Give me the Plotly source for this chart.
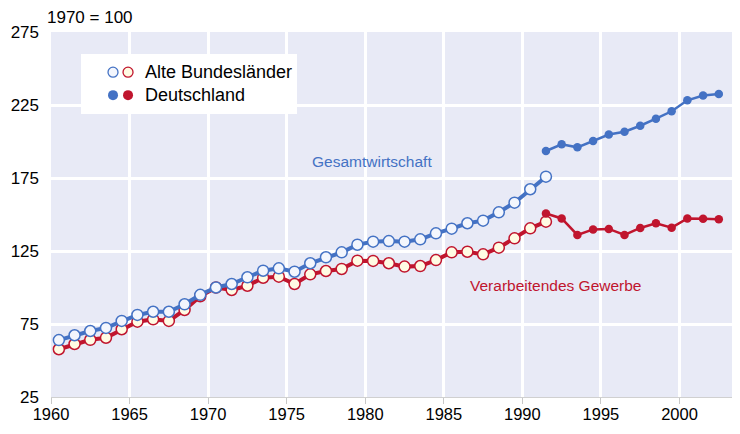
import plotly.graph_objects as go

# ---- data (index, 1970 = 100) ----
years_old = list(range(1960, 1992))
gesamt_old = [64.0, 67.3, 70.2, 72.3, 77.1, 81.2, 83.4, 83.4, 88.5, 95.0,
              100.0, 102.4, 107.0, 111.5, 113.1, 110.8, 116.6, 120.7, 124.1, 129.3,
              131.4, 131.8, 131.4, 133.0, 137.1, 140.3, 144.0, 145.8, 151.5, 158.1,
              167.3, 175.9]
verarb_old = [57.7, 61.3, 64.2, 65.6, 71.4, 76.6, 78.2, 77.1, 84.6, 94.0,
              100.0, 98.3, 101.2, 106.7, 107.4, 102.4, 109.0, 111.3, 112.7, 118.4,
              118.2, 116.6, 114.3, 114.7, 118.8, 124.1, 124.5, 122.7, 127.3, 133.7,
              140.5, 145.1]
years_de = list(range(1991, 2003))
gesamt_de = [193.5, 198.1, 196.0, 200.3, 204.8, 206.7, 210.8, 215.6, 220.7, 228.2, 231.5, 232.5]
verarb_de = [150.7, 147.3, 136.0, 139.8, 140.1, 136.0, 140.8, 144.0, 141.0, 147.3, 147.1, 146.7]

x_ticks = list(range(1960, 2001, 5))
y_ticks = [25, 75, 125, 175, 225, 275]

BLUE = "#4472C4"
RED = "#C0152E"
FONT = "Liberation Sans, Arial, sans-serif"

def mid(years):
    return [y + 0.5 for y in years]

fig = go.Figure()

fig.add_trace(go.Scatter(
    x=mid(years_old), y=verarb_old, mode="lines+markers",
    line=dict(color=RED, width=4),
    marker=dict(size=11, color="#FFFBE3", line=dict(color=RED, width=1.5)),
    showlegend=False, hoverinfo="skip"))
fig.add_trace(go.Scatter(
    x=mid(years_old), y=gesamt_old, mode="lines+markers",
    line=dict(color=BLUE, width=4),
    marker=dict(size=11, color="#F3F6FD", line=dict(color=BLUE, width=1.5)),
    showlegend=False, hoverinfo="skip"))
fig.add_trace(go.Scatter(
    x=mid(years_de), y=verarb_de, mode="lines+markers",
    line=dict(color=RED, width=2.5),
    marker=dict(size=8.5, color=RED),
    showlegend=False, hoverinfo="skip"))
fig.add_trace(go.Scatter(
    x=mid(years_de), y=gesamt_de, mode="lines+markers",
    line=dict(color=BLUE, width=2.5),
    marker=dict(size=8.5, color=BLUE),
    showlegend=False, hoverinfo="skip"))

# ---- custom legend (two markers per row) on an overlay axis in [0,1] ----
leg_rows = [0.890, 0.827]
leg_cols = [0.090, 0.1118]
fig.add_trace(go.Scatter(
    x=[leg_cols[0], leg_cols[1]], y=[leg_rows[0], leg_rows[0]], mode="markers",
    marker=dict(size=10, color=["#F3F6FD", "#FFFBE3"], line=dict(color=[BLUE, RED], width=1.3)),
    xaxis="x2", yaxis="y2", showlegend=False, hoverinfo="skip"))
fig.add_trace(go.Scatter(
    x=[leg_cols[0], leg_cols[1]], y=[leg_rows[1], leg_rows[1]], mode="markers",
    marker=dict(size=10, color=[BLUE, RED]),
    xaxis="x2", yaxis="y2", showlegend=False, hoverinfo="skip"))

fig.add_shape(type="rect", xref="paper", yref="paper",
              x0=0.0435, x1=0.357, y0=0.7753, y1=0.9397,
              fillcolor="white", line=dict(width=0), layer="between")

annots = [
    dict(text="Alte Bundesländer", x=0.1335, y=leg_rows[0], xanchor="left",
         font=dict(size=18, color="black", family=FONT)),
    dict(text="Deutschland", x=0.1335, y=leg_rows[1], xanchor="left",
         font=dict(size=18, color="black", family=FONT)),
    dict(text="1970 = 100", x=-0.009, y=1.039, xanchor="left",
         font=dict(size=17, color="black", family=FONT)),
]
for a in annots:
    fig.add_annotation(xref="paper", yref="paper", yanchor="middle",
                       showarrow=False, **a)

fig.add_annotation(text="Gesamtwirtschaft", x=1980.4, y=186, xref="x", yref="y",
                   showarrow=False, font=dict(size=15.5, color=BLUE, family=FONT))
fig.add_annotation(text="Verarbeitendes Gewerbe", x=1992.1, y=101.7, xref="x", yref="y",
                   showarrow=False, font=dict(size=15.5, color=RED, family=FONT))

# page body adds an 8px offset, so the figure is 8px smaller and margins shifted
fig.update_layout(
    width=732, height=426,
    margin=dict(l=43, r=0, t=24, b=37, autoexpand=False),
    paper_bgcolor="white",
    plot_bgcolor="#E8EAF6",
    font=dict(family=FONT, size=17, color="black"),
    showlegend=False,
    xaxis=dict(range=[1960, 2003.85], tickvals=x_ticks, ticks="outside", ticklen=6,
               tickcolor="#C8C8C8", showline=True, linecolor="#D0D0D0", linewidth=1,
               showgrid=True, gridcolor="white", gridwidth=3, zeroline=False,
               ticklabelstandoff=-4, tickfont=dict(size=16.5), automargin=False),
    yaxis=dict(range=[25, 275], tickvals=y_ticks, showgrid=True, gridcolor="white",
               gridwidth=3, zeroline=False, ticks="", ticklabelstandoff=11,
               tickfont=dict(size=17), automargin=False),
    xaxis2=dict(overlaying="x", range=[0, 1], visible=False),
    yaxis2=dict(overlaying="y", range=[0, 1], visible=False),
)

fig.write_html("out.html")
